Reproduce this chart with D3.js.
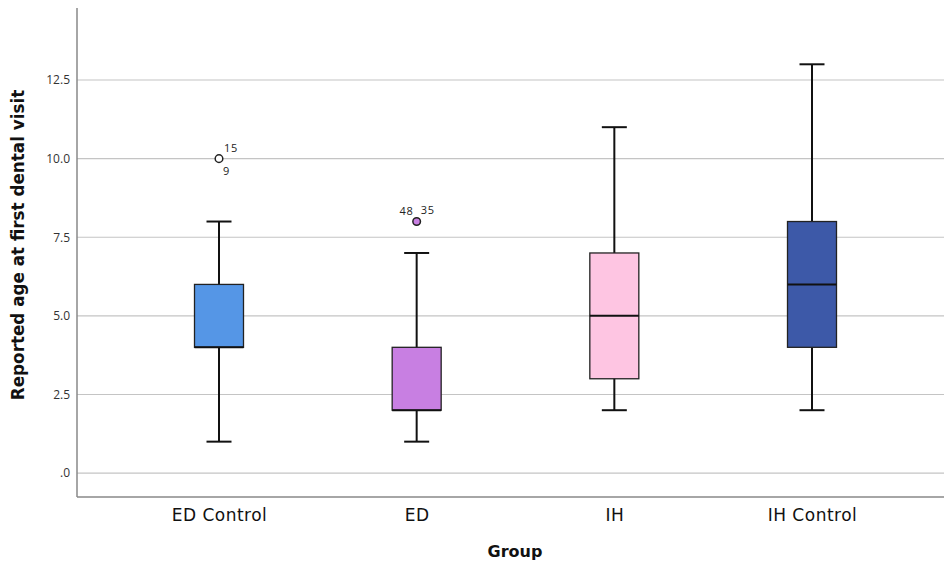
<!DOCTYPE html>
<html>
<head>
<meta charset="utf-8">
<script src="https://cdn.jsdelivr.net/npm/d3@7"></script>
<style>
  body { margin: 0; background: #fff; }
  text { font-family: "Open Sans", "DejaVu Sans", sans-serif; }
</style>
</head>
<body>
<svg id="chart" width="944" height="564"></svg>
<script>
const groups = ["ED Control", "ED", "IH", "IH Control"];
const whiskerLow = [1, 1, 2, 2];
const q1 = [4, 2, 3, 4];
const median = [4, 2, 5, 6];
const q3 = [6, 4, 7, 8];
const whiskerHigh = [8, 7, 11, 13];
const colors = ["#5596E6", "#C87FE2", "#FEC5E2", "#3D59A8"];
const outlierGroup = ["ED Control", "ED"];
const outlierValue = [10, 8];
const outlierIdsAbove = [["15"], ["48", "35"]];
const outlierIdsBelow = [["9"], []];
const yTicks = [0, 2.5, 5, 7.5, 10, 12.5];
const yTickLabels = [".0", "2.5", "5.0", "7.5", "10.0", "12.5"];

const svg = d3.select("#chart");
const mLeft = 77, mRight = 944, mTop = 8, mBottom = 497;
const wideFont = "'DejaVu Sans', sans-serif";

const y = d3.scaleLinear().domain([-0.76, 14.79]).range([mBottom, mTop]);
const x = d3.scalePoint().domain(groups).range([219, 812]);
const boxW = 49, capW = 25;

// gridlines
svg.append("g").selectAll("line").data(yTicks).join("line")
  .attr("x1", mLeft).attr("x2", mRight)
  .attr("y1", d => y(d)).attr("y2", d => y(d))
  .attr("stroke", "#c4c4c4").attr("stroke-width", 1.2);

// y axis
const yAxis = d3.axisLeft(y).tickValues(yTicks)
  .tickFormat((d, i) => yTickLabels[i]).tickSize(0).tickPadding(7);
const gy = svg.append("g").attr("transform", `translate(${mLeft},0)`).call(yAxis);
gy.select(".domain").remove();
gy.selectAll("text").attr("font-size", 12).attr("fill", "#333")
  .style("font-family", "'Open Sans', sans-serif");

// x axis
const xAxis = d3.axisBottom(x).tickSize(0).tickPadding(12);
const gx = svg.append("g").attr("transform", `translate(0,${mBottom})`).call(xAxis);
gx.select(".domain").remove();
gx.selectAll("text").attr("font-size", 17).attr("fill", "#111")
  .attr("letter-spacing", 0.5)
  .style("font-family", wideFont);

// axis lines
svg.append("line").attr("x1", mLeft).attr("x2", mLeft).attr("y1", mTop).attr("y2", mBottom)
  .attr("stroke", "#888").attr("stroke-width", 1.5);
svg.append("line").attr("x1", mLeft).attr("x2", mRight).attr("y1", mBottom).attr("y2", mBottom)
  .attr("stroke", "#888").attr("stroke-width", 1.5);

// boxes
const data = groups.map((g, i) => ({g, lo: whiskerLow[i], q1: q1[i], med: median[i], q3: q3[i], hi: whiskerHigh[i], c: colors[i]}));
const bg = svg.append("g").selectAll("g").data(data).join("g");

bg.append("line").attr("x1", d => x(d.g)).attr("x2", d => x(d.g))
  .attr("y1", d => y(d.lo)).attr("y2", d => y(d.hi))
  .attr("stroke", "#111").attr("stroke-width", 2);
bg.append("line").attr("x1", d => x(d.g) - capW / 2).attr("x2", d => x(d.g) + capW / 2)
  .attr("y1", d => y(d.hi)).attr("y2", d => y(d.hi))
  .attr("stroke", "#111").attr("stroke-width", 2);
bg.append("line").attr("x1", d => x(d.g) - capW / 2).attr("x2", d => x(d.g) + capW / 2)
  .attr("y1", d => y(d.lo)).attr("y2", d => y(d.lo))
  .attr("stroke", "#111").attr("stroke-width", 2);
bg.append("rect").attr("x", d => x(d.g) - boxW / 2).attr("width", boxW)
  .attr("y", d => y(d.q3)).attr("height", d => y(d.q1) - y(d.q3))
  .attr("fill", d => d.c).attr("stroke", "#222").attr("stroke-width", 1.3);
bg.append("line").attr("x1", d => x(d.g) - boxW / 2).attr("x2", d => x(d.g) + boxW / 2)
  .attr("y1", d => y(d.med)).attr("y2", d => y(d.med))
  .attr("stroke", "#111").attr("stroke-width", 2);

// outliers
outlierGroup.forEach((g, i) => {
  const cx = x(g), cy = y(outlierValue[i]);
  const gi = groups.indexOf(g);
  svg.append("circle").attr("cx", cx).attr("cy", cy).attr("r", 3.8)
    .attr("fill", gi === 0 ? "#fff" : colors[gi]).attr("stroke", "#222").attr("stroke-width", 1.5);
  const above = outlierIdsAbove[i];
  if (above.length === 1) {
    svg.append("text").attr("x", cx + 5).attr("y", cy - 7).text(above[0])
      .attr("font-size", 11).attr("fill", "#222").attr("letter-spacing", 0.8);
  } else {
    svg.append("text").attr("x", cx - 3).attr("y", cy - 7).attr("text-anchor", "end").text(above[0])
      .attr("font-size", 11).attr("fill", "#222").attr("letter-spacing", 0.8);
    svg.append("text").attr("x", cx + 4).attr("y", cy - 8).text(above[1])
      .attr("font-size", 11).attr("fill", "#222").attr("letter-spacing", 0.8);
  }
  outlierIdsBelow[i].forEach(t => {
    svg.append("text").attr("x", cx + 4).attr("y", cy + 16).text(t)
      .attr("font-size", 11).attr("fill", "#222");
  });
});

// titles
svg.append("text").attr("transform", `translate(24,245) rotate(-90)`)
  .attr("text-anchor", "middle").attr("font-size", 16.8).attr("font-weight", "bold")
  .style("font-family", wideFont)
  .attr("fill", "#111").text("Reported age at first dental visit");
svg.append("text").attr("x", 515).attr("y", 557)
  .attr("text-anchor", "middle").attr("font-size", 16).attr("font-weight", "bold")
  .style("font-family", wideFont)
  .attr("fill", "#111").text("Group");
</script>
</body>
</html>
